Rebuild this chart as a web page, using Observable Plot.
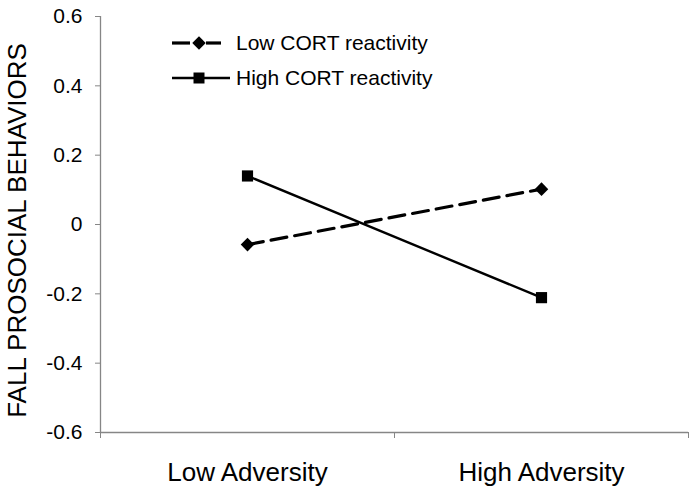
<!DOCTYPE html>
<html>
<head>
<meta charset="utf-8">
<script src="https://cdn.jsdelivr.net/npm/d3@7"></script>
<script src="https://cdn.jsdelivr.net/npm/@observablehq/plot@0.6"></script>
<style>
  html, body { margin: 0; padding: 0; background: #fff; }
  #wrap { position: relative; width: 698px; height: 494px; font-family: Arial, "Liberation Sans", sans-serif; }
  #wrap svg { display: block; }
  #legend { position: absolute; left: 0; top: 0; pointer-events: none; }
</style>
</head>
<body>
<div id="wrap"></div>
<script>
const categories = ["Low Adversity", "High Adversity"];
const seriesNames = ["Low CORT reactivity", "High CORT reactivity"];
const lowCort = [-0.058, 0.102];
const highCort = [0.140, -0.211];
const yTicks = [-0.6, -0.4, -0.2, 0, 0.2, 0.4, 0.6];
const yTitle = "FALL PROSOCIAL BEHAVIORS";

const rows = [];
categories.forEach((c, i) => {
  rows.push({series: seriesNames[0], pos: i + 0.5, value: lowCort[i]});
  rows.push({series: seriesNames[1], pos: i + 0.5, value: highCort[i]});
});
const lowRows = rows.filter(d => d.series === seriesNames[0]);
const highRows = rows.filter(d => d.series === seriesNames[1]);
const catPos = categories.map((c, i) => i + 0.5);
const bounds = d3.range(categories.length + 1);
const axisGray = "#868686";
const fmt = v => v === 0 ? "0" : v.toFixed(1);

const chart = Plot.plot({
  width: 698,
  height: 494,
  marginLeft: 100,
  marginRight: 10,
  marginTop: 16,
  marginBottom: 62,
  style: {fontFamily: "Arial, 'Liberation Sans', sans-serif", background: "#fff", color: "#000"},
  x: {type: "linear", domain: [0, categories.length]},
  y: {type: "linear", domain: [-0.6, 0.6]},
  marks: [
    Plot.ruleX([0], {stroke: axisGray, strokeWidth: 1.3}),
    Plot.axisY({ticks: yTicks, tickSize: 5, tickPadding: 13, tickFormat: fmt, fontSize: 21, stroke: axisGray, color: "#000", label: null}),
    Plot.ruleY([-0.6], {stroke: axisGray, strokeWidth: 1.3}),
    Plot.axisX({ticks: bounds, tickSize: 6, tickFormat: () => "", stroke: axisGray, label: null}),
    Plot.axisX({ticks: catPos, tickSize: 0, tickPadding: 30, fontSize: 26, tickFormat: (d) => categories[Math.round(d - 0.5)], color: "#000", label: null}),
    Plot.text([yTitle], {frameAnchor: "left", text: d => d, rotate: -90, textAnchor: "middle", dx: -83, dy: 6, fontSize: 26, fill: "#000"}),
    Plot.line(lowRows, {x: "pos", y: "value", stroke: "#000", strokeWidth: 3.2, strokeDasharray: "16,8"}),
    Plot.line(highRows, {x: "pos", y: "value", stroke: "#000", strokeWidth: 2.4}),
    Plot.dot(lowRows, {x: "pos", y: "value", symbol: "diamond2", r: 6.1, fill: "#000", stroke: "none"}),
    Plot.dot(highRows, {x: "pos", y: "value", symbol: "square", r: 6.3, fill: "#000", stroke: "none"})
  ]
});
document.getElementById("wrap").appendChild(chart);

const leg = d3.select("#wrap").append("svg").attr("id", "legend").attr("width", 698).attr("height", 494);
const legItems = [
  {name: seriesNames[0], y: 43, kind: "diamond"},
  {name: seriesNames[1], y: 78, kind: "square"}
];
legItems.forEach(it => {
  const g = leg.append("g");
  if (it.kind === "diamond") {
    g.append("line").attr("x1", 172).attr("x2", 190).attr("y1", it.y).attr("y2", it.y).attr("stroke", "#000").attr("stroke-width", 3.2);
    g.append("line").attr("x1", 206).attr("x2", 221).attr("y1", it.y).attr("y2", it.y).attr("stroke", "#000").attr("stroke-width", 3.2);
    g.append("path").attr("d", d3.symbol(d3.symbolDiamond2, 115)()).attr("transform", `translate(199,${it.y})`).attr("fill", "#000");
  } else {
    g.append("line").attr("x1", 172).attr("x2", 230).attr("y1", it.y).attr("y2", it.y).attr("stroke", "#000").attr("stroke-width", 2.4);
    g.append("path").attr("d", d3.symbol(d3.symbolSquare, 121)()).attr("transform", `translate(199,${it.y})`).attr("fill", "#000");
  }
  g.append("text").attr("x", 236).attr("y", it.y).attr("dy", "0.35em").attr("font-size", 21)
    .attr("font-family", "Arial, 'Liberation Sans', sans-serif").attr("fill", "#000").text(it.name);
});
</script>
</body>
</html>
